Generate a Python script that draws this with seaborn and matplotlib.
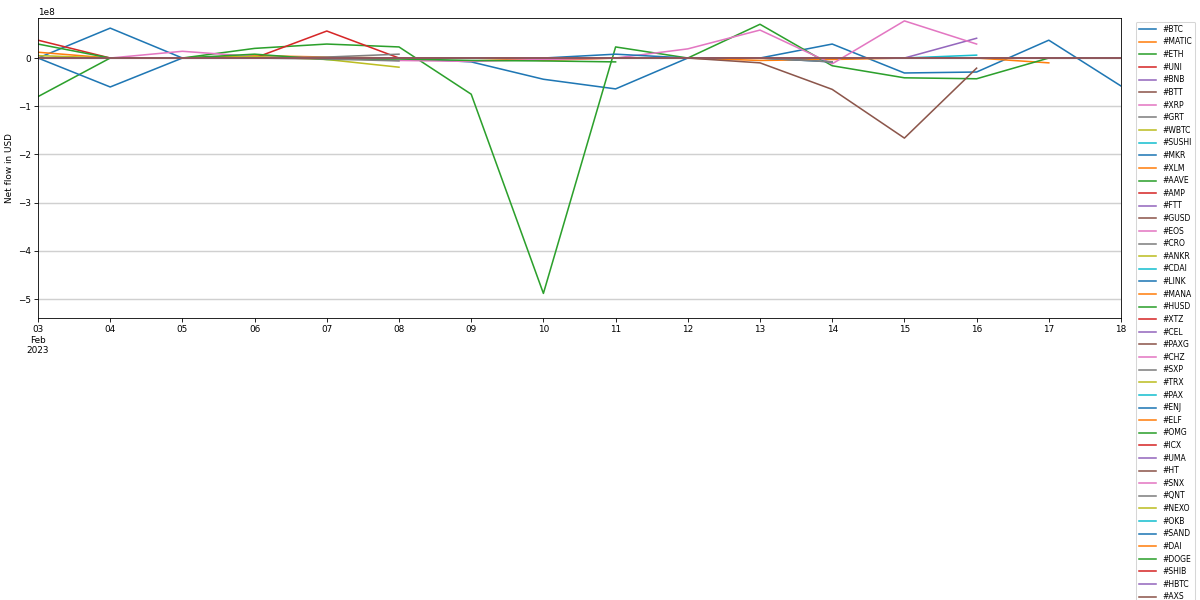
import matplotlib
matplotlib.use("Agg")
import matplotlib.pyplot as plt
import matplotlib.dates as mdates
from matplotlib.ticker import FuncFormatter
import numpy as np
import pandas as pd
import seaborn as sns

nan = np.nan

# daily net flow, 03 Feb .. 18 Feb 2023, in units of 1e8 USD
dates = pd.date_range("2023-02-03", "2023-02-18", freq="D")

coins = ["#BTC", "#MATIC", "#ETH", "#UNI", "#BNB", "#BTT", "#XRP", "#GRT", "#WBTC", "#SUSHI",
         "#MKR", "#XLM", "#AAVE", "#AMP", "#FTT", "#GUSD", "#EOS", "#CRO", "#ANKR", "#CDAI",
         "#LINK", "#MANA", "#HUSD", "#XTZ", "#CEL", "#PAXG", "#CHZ", "#SXP", "#TRX", "#PAX",
         "#ENJ", "#ELF", "#OMG", "#ICX", "#UMA", "#HT", "#SNX", "#QNT", "#NEXO", "#OKB",
         "#SAND", "#DAI", "#DOGE", "#SHIB", "#HBTC", "#AXS"]

btc = [0, 0.62, 0, 0, 0, 0, -0.08, -0.44, -0.64, 0, 0, 0.29, -0.31, -0.29, 0.37, -0.58]
matic = [0.12, 0, 0, 0.05, 0.02, 0, 0, -0.05, 0, 0, -0.05, -0.03, 0, 0, -0.10, nan]
eth = [-0.80, 0, 0, 0.20, 0.29, 0.23, -0.75, -4.88, 0.23, 0, 0.70, -0.16, -0.41, -0.43, 0, nan]
uni = [0.37, 0, 0, 0, 0.56, 0, 0, 0, 0, 0, 0, 0, 0, 0, 0, 0]
bnb = [0, 0, 0, 0, 0, 0, 0, 0, 0, 0, 0, 0, 0, 0.41, nan, nan]
btt = [0, 0, 0, 0, 0, 0, 0, 0, 0, 0, -0.10, -0.65, -1.66, -0.21, nan, nan]
xrp = [0, 0, 0.14, 0.03, 0, -0.05, -0.07, -0.03, 0, 0.19, 0.58, -0.12, 0.77, 0.29, nan, nan]
grt = [0, 0, 0, 0, 0.02, 0.08, nan, nan, nan, nan, nan, nan, nan, nan, nan, nan]
wbtc = [0.05, 0, 0, 0.03, -0.03, -0.19, nan, nan, nan, nan, nan, nan, nan, nan, nan, nan]
sushi = [0, 0, 0, 0, 0, 0, 0, 0, 0, 0, 0, 0, 0, 0.06, nan, nan]
mkr = [0, -0.60, 0, 0, 0, 0, 0, 0, 0.08, 0, 0, -0.08, nan, nan, nan, nan]
aave = [0.29, 0, 0, 0.08, -0.03, -0.02, -0.05, -0.06, -0.08, nan, nan, nan, nan, nan, nan, nan]
cro = [0, 0, 0, 0, -0.02, -0.06, nan, nan, nan, nan, nan, nan, nan, nan, nan, nan]
sxp = [0, 0, 0, 0, 0, 0, 0, 0, 0, 0, 0, -0.08, nan, nan, nan, nan]
flat = [0] * 16

series = {"#BTC": btc, "#MATIC": matic, "#ETH": eth, "#UNI": uni, "#BNB": bnb, "#BTT": btt,
          "#XRP": xrp, "#GRT": grt, "#WBTC": wbtc, "#SUSHI": sushi, "#MKR": mkr,
          "#AAVE": aave, "#CRO": cro, "#SXP": sxp}

fig = plt.figure(figsize=(16, 8), dpi=75)
ax = fig.add_subplot(1, 1, 1)
fig.subplots_adjust(left=38 / 1200, right=1121 / 1200, top=1 - 18 / 600, bottom=1 - 318 / 600)

palette = sns.color_palette("tab10", n_colors=10)
for i, coin in enumerate(coins):
    ys = np.array(series.get(coin, flat), dtype=float) * 1e8
    sns.lineplot(x=dates, y=ys, ax=ax, color=palette[i % 10], label=coin,
                 estimator=None, linewidth=1.5)

ax.set_xlim(dates[0], dates[-1])
ax.set_ylim(-5.39e8, 0.83e8)
ax.grid(axis="y", color="#d0d0d0", linewidth=1.4)
ax.grid(axis="x", visible=False)
ax.set_axisbelow(True)

ax.xaxis.set_major_locator(mdates.DayLocator())
def day_label(x, pos):
    d = mdates.num2date(x)
    if d.day == 3:
        return d.strftime("%d\n%b\n%Y")
    return d.strftime("%d")
ax.xaxis.set_major_formatter(FuncFormatter(day_label))
ax.tick_params(labelsize=8.5)
ax.yaxis.get_offset_text().set_fontsize(8.5)
ax.set_xlabel("")
ax.set_ylabel("Net flow in USD", fontsize=8.5)

ax.legend(bbox_to_anchor=(1.01, 1), loc="upper left", fontsize=7.3,
          labelspacing=0.475, handlelength=2.3)

fig.savefig("out.png", dpi=75)
